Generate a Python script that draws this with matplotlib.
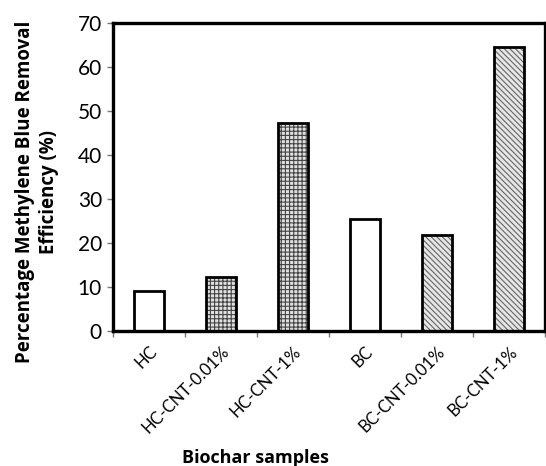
import matplotlib
matplotlib.use('Agg')
import matplotlib.pyplot as plt
import numpy as np

# Valeurs
samples = ['HC', 'HC-CNT-0.01%', 'HC-CNT-1%', 'BC', 'BC-CNT-0.01%', 'BC-CNT-1%']
removal = [9.0, 12.3, 47.3, 25.5, 21.7, 64.4]
yticks = [0, 10, 20, 30, 40, 50, 60, 70]

plt.rcParams['font.family'] = ['Lato', 'DejaVu Sans']
plt.rcParams['hatch.linewidth'] = 0.8

fig = plt.figure(figsize=(5.46, 4.66), dpi=100)
ax = fig.add_axes([0.207, 0.29, 0.791, 0.661])

x = np.arange(len(samples))
styles = [
    ('white', None, 'black'),
    ('#e0e0e0', '++++', '#444444'),
    ('#e0e0e0', '++++', '#444444'),
    ('white', None, 'black'),
    ('#e6e6e6', '\\\\\\\\\\\\', '#666666'),
    ('#e6e6e6', '\\\\\\\\\\\\', '#666666'),
]
for xi, val, (fc, hatch, hc) in zip(x, removal, styles):
    ax.bar(xi, val, width=0.41, color=fc, edgecolor=hc, hatch=hatch, linewidth=0)
    # contour noir par-dessus les hachures
    ax.bar(xi, val, width=0.41, fill=False, edgecolor='black', linewidth=2)

ax.set_xlim(-0.5, 5.5)
ax.set_ylim(0, 70)
ax.set_yticks(yticks)
ax.tick_params(axis='y', labelsize=15, length=4, width=1, color='#777777', pad=4)

ax.set_xticks(x)
ax.set_xticklabels(samples, rotation=45, ha='right', rotation_mode='anchor', fontsize=12)
ax.tick_params(axis='x', which='major', length=0, pad=9)
ax.set_xticks(np.arange(-0.5, 5.6, 1), minor=True)
ax.tick_params(axis='x', which='minor', length=4, width=1, color='#777777')

for sp in ax.spines.values():
    sp.set_linewidth(2.4)

ax.set_ylabel('Percentage Methylene Blue Removal\nEfficiency (%)', fontsize=13.5,
              fontweight='bold', family='Open Sans', linespacing=1.3)
ax.yaxis.set_label_coords(-0.125, 0.45)
ax.set_xlabel('Biochar samples', fontsize=13, fontweight='bold', family='Open Sans')
ax.xaxis.set_label_coords(0.33, -0.385)

fig.savefig('out.png', dpi=100)
